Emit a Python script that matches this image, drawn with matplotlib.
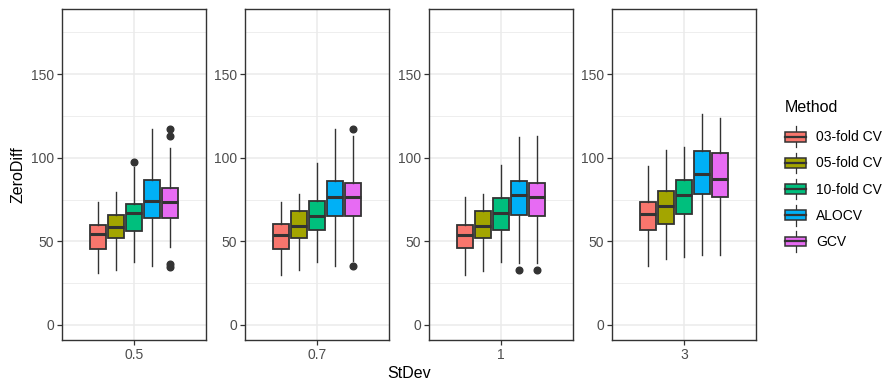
import matplotlib
matplotlib.use('Agg')
import matplotlib.pyplot as plt
from matplotlib.legend_handler import HandlerBase
from matplotlib.patches import Rectangle, Patch
from matplotlib.lines import Line2D

plt.rcParams['font.family'] = ['Liberation Sans', 'DejaVu Sans']

methods = ['03-fold CV', '05-fold CV', '10-fold CV', 'ALOCV', 'GCV']
colors = ['#F8766D', '#A3A500', '#00BF7D', '#00B0F6', '#E76BF3']
stdevs = ['0.5', '0.7', '1', '3']

# box stats per StDev panel, one value per method
whislo = [[30.9, 32.9, 37.7, 35.3, 46.5],
          [29.9, 32.9, 37.7, 35.3, 38.5],
          [29.9, 32.5, 37.7, 36.9, 36.9],
          [35.3, 39.5, 40.9, 41.7, 41.7]]
q1 = [[45.4, 52.0, 56.2, 63.8, 63.8],
      [45.3, 52.0, 56.8, 65.2, 65.2],
      [45.8, 52.0, 56.8, 66.0, 65.4],
      [56.8, 60.4, 66.4, 78.2, 76.8]]
med = [[54.6, 58.6, 66.8, 74.2, 73.6],
       [54.0, 59.4, 65.4, 76.6, 76.6],
       [54.0, 59.4, 66.8, 77.8, 76.6],
       [66.2, 71.0, 77.8, 90.1, 87.5]]
q3 = [[59.6, 65.8, 72.6, 86.9, 82.1],
      [60.2, 68.4, 74.0, 86.3, 84.9],
      [59.8, 68.4, 76.1, 86.3, 84.9],
      [73.4, 80.0, 86.9, 104.3, 102.7]]
whishi = [[73.5, 79.7, 94.3, 117.2, 105.7],
          [73.4, 78.3, 96.7, 117.2, 112.8],
          [76.3, 78.3, 95.7, 112.6, 113.2],
          [94.9, 104.7, 106.3, 126.2, 123.6]]
outliers = [[[], [], [97.3], [], [117.2, 113.2, 36.5, 34.9]],
            [[], [], [], [], [117.2, 35.1]],
            [[], [], [], [32.9], [32.9]],
            [[], [], [], [], []]]

W, H = 886, 387
fig = plt.figure(figsize=(W / 100, H / 100), dpi=100)

edge = '#333333'
grid_c = '#EBEBEB'
tick_c = '#4D4D4D'

offsets = [-0.3, -0.15, 0.0, 0.15, 0.3]
lefts = [62, 245, 429, 612]
pw, top, bottom = 144, 9, 340

for p, sd in enumerate(stdevs):
    ax = fig.add_axes([lefts[p] / W, (H - bottom) / H, pw / W, (bottom - top) / H])
    stats = []
    for m in range(len(methods)):
        stats.append({'whislo': whislo[p][m], 'q1': q1[p][m], 'med': med[p][m],
                      'q3': q3[p][m], 'whishi': whishi[p][m], 'fliers': outliers[p][m]})
    bp = ax.bxp(stats, positions=[1 + o for o in offsets], widths=0.135,
                patch_artist=True, showcaps=False, manage_ticks=False,
                boxprops=dict(edgecolor=edge, linewidth=1.3),
                medianprops=dict(color=edge, linewidth=2.2),
                whiskerprops=dict(color=edge, linewidth=1.0),
                flierprops=dict(marker='o', markerfacecolor=edge, markeredgecolor=edge,
                                markersize=4.8))
    for box, c in zip(bp['boxes'], colors):
        box.set_facecolor(c)
    for item in bp['boxes'] + bp['medians'] + bp['whiskers'] + bp['fliers']:
        item.set_zorder(3)

    ax.set_xlim(0.4, 1.6)
    ax.set_ylim(-9, 189)
    ax.set_xticks([1])
    ax.set_xticklabels([sd])
    ax.set_yticks([0, 50, 100, 150])
    ax.set_yticks([25, 75, 125, 175], minor=True)
    ax.grid(True, which='major', color=grid_c, linewidth=1.1, zorder=0)
    ax.grid(True, which='minor', axis='y', color=grid_c, linewidth=0.6, zorder=0)
    ax.set_axisbelow(True)
    ax.tick_params(which='major', length=3.5, width=0.9, color=edge,
                   labelcolor=tick_c, labelsize=10, pad=2)
    ax.tick_params(which='minor', length=0)
    for s in ax.spines.values():
        s.set_color(edge)
        s.set_linewidth(1.0)
    if p == 0:
        ax.set_ylabel('ZeroDiff', fontsize=11.5, labelpad=4)

fig.text(409 / W, 1 - 373 / H, 'StDev', ha='center', va='center', fontsize=11.5)


class BoxKeyHandler(HandlerBase):
    def create_artists(self, legend, orig_handle, xdescent, ydescent, width, height,
                       fontsize, trans):
        fc = orig_handle.get_facecolor()
        x0, y0 = -xdescent, -ydescent
        cx = x0 + width / 2
        bw, bh = width * 0.95, height * 0.55
        wl = Line2D([cx, cx], [y0 - 1, y0 + height + 1], color=edge, linewidth=0.9,
                    transform=trans)
        rect = Rectangle((cx - bw / 2, y0 + (height - bh) / 2), bw, bh,
                         facecolor=fc, edgecolor=edge, linewidth=1.1, transform=trans)
        ml = Line2D([cx - bw / 2, cx + bw / 2], [y0 + height / 2] * 2, color=edge,
                    linewidth=1.6, transform=trans)
        return [wl, rect, ml]


handles = [Patch(facecolor=c) for c in colors]
leg = fig.legend(handles, methods, loc='upper left', bbox_to_anchor=(772 / W, 1 - 92 / H),
                 title='Method', frameon=False, fontsize=10, title_fontsize=11.5,
                 handler_map={Patch: BoxKeyHandler()}, handlelength=1.6,
                 handleheight=1.6, labelspacing=0.6, handletextpad=0.7,
                 alignment='left')
leg.get_title().set_position((0, 5))

fig.savefig('out.png', dpi=100, facecolor='white')
